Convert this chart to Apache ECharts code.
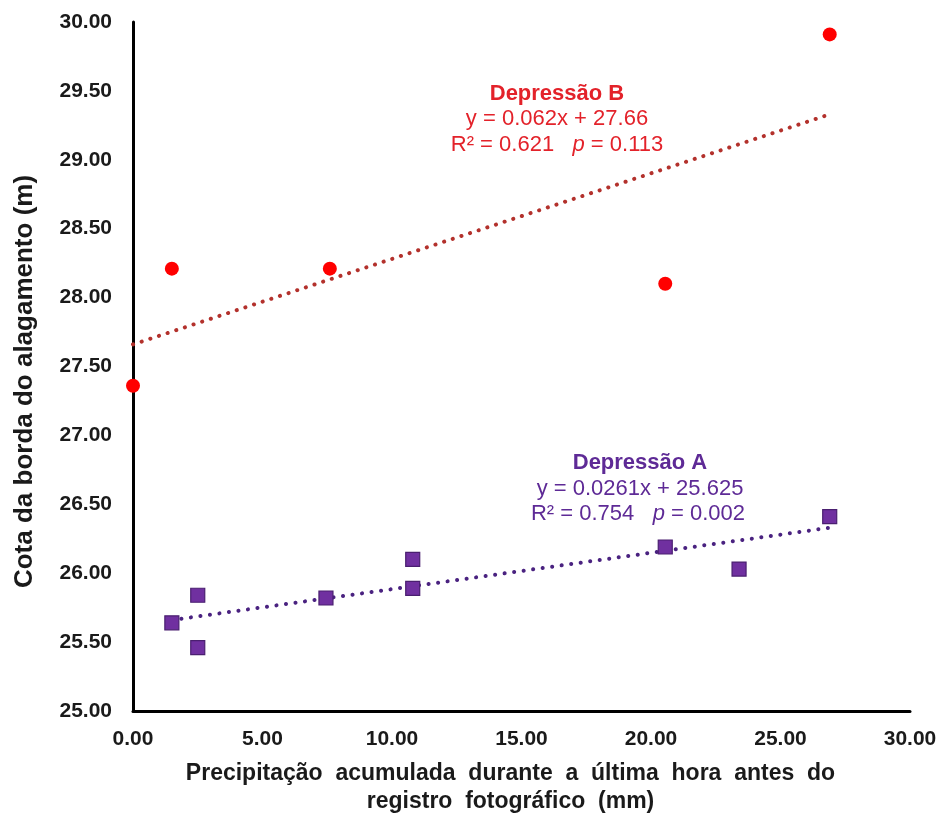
<!DOCTYPE html>
<html>
<head>
<meta charset="utf-8">
<script src="https://cdn.jsdelivr.net/npm/echarts@6/dist/echarts.min.js"></script>
<style>
    html, body { margin: 0; padding: 0; background: #fff; }
    #chart { width: 940px; height: 821px; }
</style>
</head>
<body>
<div id="chart"></div>
<script>
// Depressão B (círculos vermelhos)
var depB = [[0, 27.36], [1.5, 28.21], [7.6, 28.21], [20.55, 28.1], [26.9, 29.91]];
// Depressão A (quadrados roxos)
var depA = [[1.5, 25.64], [2.5, 25.84], [2.5, 25.46], [7.45, 25.82], [10.8, 26.1],
            [10.8, 25.89], [20.55, 26.19], [23.4, 26.03], [26.9, 26.41]];
// linhas de tendência (pontos extremos)
var trendB = [[0, 27.66], [26.9, 29.33]];
var trendA = [[1.5, 25.66], [26.9, 26.33]];

var xTicks = { min: 0, max: 30, interval: 5 };
var yTicks = { min: 25, max: 30, interval: 0.5 };

var font = "'Liberation Sans', Arial, sans-serif";
var red = '#e3222a';
var purple = '#5e2a96';

var myChart = echarts.init(document.getElementById('chart'));
var option = {
    backgroundColor: '#fff',
    animation: false,
    grid: {
        left: 133,
        right: 30,
        top: 22,
        bottom: 108
    },
    xAxis: {
        type: 'value',
        min: xTicks.min,
        max: xTicks.max,
        interval: xTicks.interval,
        name: 'Precipitação  acumulada  durante  a  última  hora  antes  do\nregistro  fotográfico  (mm)',
        nameLocation: 'middle',
        nameGap: 49,
        nameTextStyle: {
            fontFamily: font, fontWeight: 'bold', fontSize: 23, color: '#1a1a1a',
            lineHeight: 28, padding: [0, 22, 0, 0]
        },
        axisLine: { lineStyle: { color: '#000', width: 3 } },
        axisTick: { show: false },
        splitLine: { show: false },
        axisLabel: {
            fontFamily: font, fontWeight: 'bold', fontSize: 21, color: '#1a1a1a',
            margin: 18,
            formatter: function (v) { return v.toFixed(2); }
        }
    },
    yAxis: {
        type: 'value',
        min: yTicks.min,
        max: yTicks.max,
        interval: yTicks.interval,
        name: 'Cota da borda do alagamento (m)',
        nameLocation: 'middle',
        nameGap: 95,
        nameTextStyle: {
            fontFamily: font, fontWeight: 'bold', fontSize: 26, color: '#1a1a1a',
            padding: [0, 30, 0, 0]
        },
        axisLine: { show: true, lineStyle: { color: '#000', width: 3 } },
        axisTick: { show: false },
        splitLine: { show: false },
        axisLabel: {
            fontFamily: font, fontWeight: 'bold', fontSize: 21, color: '#1a1a1a',
            margin: 21,
            formatter: function (v) { return v.toFixed(2); }
        }
    },
    series: [
        {
            type: 'line',
            data: trendB,
            showSymbol: false,
            lineStyle: { color: '#b3312c', width: 4, type: [0.1, 9], cap: 'round' },
            z: 1
        },
        {
            type: 'line',
            data: trendA,
            showSymbol: false,
            lineStyle: { color: '#4a2280', width: 4, type: [0.1, 9.5], cap: 'round' },
            z: 1
        },
        {
            name: 'Depressão B',
            type: 'scatter',
            data: depB,
            symbol: 'circle',
            symbolSize: 14,
            itemStyle: { color: '#ff0000', opacity: 1 },
            z: 3
        },
        {
            name: 'Depressão A',
            type: 'scatter',
            data: depA,
            symbol: 'rect',
            symbolSize: 14,
            itemStyle: { color: '#7030a0', borderColor: '#4a1f70', borderWidth: 1.2, opacity: 1 },
            z: 3
        }
    ],
    graphic: [
        {
            type: 'text', x: 557, y: 94,
            style: { text: 'Depressão B', font: 'bold 22px ' + font, fill: red, align: 'center', verticalAlign: 'middle' }
        },
        {
            type: 'text', x: 557, y: 119,
            style: { text: 'y = 0.062x + 27.66', font: '22px ' + font, fill: red, align: 'center', verticalAlign: 'middle' }
        },
        {
            type: 'text', x: 557, y: 145,
            style: {
                text: '{a|R² = 0.621   }{i|p}{a| = 0.113}', align: 'center', verticalAlign: 'middle',
                rich: {
                    a: { fontFamily: font, fontSize: 22, fill: red },
                    i: { fontFamily: font, fontSize: 22, fontStyle: 'italic', fill: red }
                }
            }
        },
        {
            type: 'text', x: 640, y: 463,
            style: { text: 'Depressão A', font: 'bold 22px ' + font, fill: purple, align: 'center', verticalAlign: 'middle' }
        },
        {
            type: 'text', x: 640, y: 489,
            style: { text: 'y = 0.0261x + 25.625', font: '22px ' + font, fill: purple, align: 'center', verticalAlign: 'middle' }
        },
        {
            type: 'text', x: 638, y: 514,
            style: {
                text: '{a|R² = 0.754   }{i|p}{a| = 0.002}', align: 'center', verticalAlign: 'middle',
                rich: {
                    a: { fontFamily: font, fontSize: 22, fill: purple },
                    i: { fontFamily: font, fontSize: 22, fontStyle: 'italic', fill: purple }
                }
            }
        }
    ]
};
myChart.setOption(option);
</script>
</body>
</html>
